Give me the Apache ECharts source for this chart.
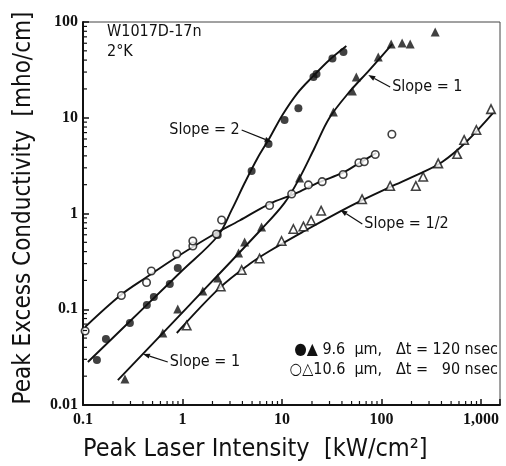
<!DOCTYPE html>
<html>
<head>
<meta charset="utf-8">
<script src="https://cdn.jsdelivr.net/npm/echarts@6/dist/echarts.min.js"></script>
<style>
  html, body { margin: 0; padding: 0; background: #fff; }
  #chart { width: 506px; height: 466px; }
</style>
</head>
<body>
<div id="chart"></div>
<script>
// Peak excess conductivity vs. peak laser intensity, sample W1017D-17n at 2 K.
// Values are [intensity kW/cm^2, conductivity mho/cm].

// 9.6 um, 120 nsec pulses: filled circles and filled triangles
const dot96 = [
  [0.138, 0.0295], [0.17, 0.049], [0.296, 0.0718], [0.438, 0.111], [0.515, 0.134],
  [0.745, 0.184], [0.896, 0.27], [2.26, 0.596], [4.95, 2.78], [7.32, 5.32],
  [10.6, 9.48], [14.6, 12.6], [20.7, 26.7], [22.2, 28.6], [32.1, 41.6], [41.4, 48.6]
];
const tri96 = [
  [0.264, 0.0187], [0.634, 0.0565], [0.896, 0.1007], [1.60, 0.155], [2.26, 0.212],
  [3.66, 0.387], [4.21, 0.504], [6.23, 0.723], [15.0, 2.35], [32.8, 11.5],
  [50.9, 19.0], [55.8, 26.7], [92.7, 43.1], [125, 58.9], [161, 60.3], [194, 58.9], [346, 78.6]
];

// 10.6 um, 90 nsec pulses: open circles and open triangles
const circ106 = [
  [0.105, 0.0593], [0.243, 0.139], [0.435, 0.190], [0.486, 0.251], [0.876, 0.378],
  [1.27, 0.458], [1.27, 0.516], [2.19, 0.611], [2.47, 0.855], [7.50, 1.21],
  [12.5, 1.60], [18.4, 1.99], [25.3, 2.15], [41.1, 2.55], [59.2, 3.39], [67.1, 3.47],
  [86.5, 4.13], [127, 6.72]
];
const tri106 = [
  [1.10, 0.0676], [2.42, 0.173], [3.93, 0.257], [5.95, 0.339], [9.89, 0.516],
  [13.0, 0.689], [16.4, 0.732], [19.6, 0.845], [24.7, 1.07], [63.7, 1.41],
  [122, 1.94], [221, 1.94], [262, 2.42], [371, 3.34], [575, 4.18], [676, 5.86],
  [897, 7.45], [1259, 12.3]
];

// Hand-drawn trend curves through each data set
const curveDot96 = [
  [0.112, 0.0281], [0.438, 0.111], [0.981, 0.251], [2.26, 0.582], [3.12, 1.09],
  [4.21, 2.08], [5.68, 3.80], [7.50, 6.15], [10.1, 10.7], [14.3, 18.1],
  [20.2, 26.7], [29.9, 40.1], [44.3, 56.1]
];
const curveTri96 = [
  [0.224, 0.0182], [1.18, 0.111], [6.23, 0.689], [10.6, 1.29], [15.0, 2.35],
  [21.2, 4.83], [29.9, 9.94], [47.5, 18.6], [75.4, 31.5], [128, 58.9]
];
const curveCirc106 = [
  [0.105, 0.0653], [0.240, 0.141], [0.438, 0.217], [0.876, 0.351], [2.01, 0.596],
  [3.75, 0.845], [7.50, 1.26], [13.3, 1.60], [23.8, 2.13], [40.5, 2.65],
  [59.8, 3.37], [88.5, 4.28]
];
const curveTri106 = [
  [0.876, 0.0565], [2.36, 0.167], [4.72, 0.297], [7.50, 0.406], [16.1, 0.641],
  [37.7, 1.04], [64.1, 1.38], [122, 1.89], [239, 2.59], [406, 3.45],
  [708, 5.58], [1349, 11.5]
];

// Axis ranges and tick labels (one label per decade)
const xRange = [0.1, 1550];
const yRange = [0.01, 100];
const xTickLabels = ['0.1', '1', '10', '100', '1,000'];
const yTickLabels = ['0.01', '0.1', '1', '10', '100'];

// Slope annotations: label text, where the leader starts, where its arrow points
const slopeNotes = [
  { text: 'Slope = 2',   from: [3.93, 7.45],  to: [7.86, 5.58],   side: 'left' },
  { text: 'Slope = 1',   from: [122, 20.9],   to: [73.6, 27.9],   side: 'right' },
  { text: 'Slope = 1/2', from: [64.1, 0.777], to: [38.6, 1.09],   side: 'right' },
  { text: 'Slope = 1',   from: [0.711, 0.0281], to: [0.40, 0.0341], side: 'right' }
];

const INK = '#111';
const SANS = "'Liberation Sans Narrow', 'DejaVu Sans Condensed', 'Liberation Sans', sans-serif";
const SERIF = "'Liberation Serif', 'DejaVu Serif', serif";

// Minor log ticks (2..9 in each decade) drawn through the axis scales
function minorValues(lo, hi) {
  const out = [];
  for (let e = Math.floor(Math.log10(lo)); e <= Math.ceil(Math.log10(hi)); e++) {
    for (let m = 2; m <= 9; m++) {
      const v = m * Math.pow(10, e);
      if (v > lo && v < hi) out.push(+v.toPrecision(6));
    }
  }
  return out;
}
const xMinor = minorValues(xRange[0], xRange[1]).map(v => [v, yRange[0]]);
const yMinor = minorValues(yRange[0], yRange[1]).map(v => [xRange[0], v]);

function decadeLabel(labels, lo) {
  const base = Math.round(Math.log10(lo));
  return function (v) {
    const l = Math.log10(v);
    const k = Math.round(l);
    if (Math.abs(l - k) > 1e-6) return '';
    return labels[k - base] || '';
  };
}

const chart = echarts.init(document.getElementById('chart'), null, { renderer: 'canvas' });

const curveStyle = { color: INK, width: 1.9 };
function curve(data) {
  return {
    type: 'line', data: data, showSymbol: false, smooth: 0.35,
    lineStyle: curveStyle, silent: true, z: 2, animation: false
  };
}
function marks(data, symbol, filled, size) {
  return {
    type: 'scatter', data: data, symbol: symbol, symbolSize: size,
    itemStyle: filled
      ? { color: INK, borderColor: INK, borderWidth: 0 }
      : { color: '#fff', borderColor: INK, borderWidth: 1.6 },
    silent: true, z: 3, animation: false
  };
}
function minorTicks(data, horizontal) {
  return {
    type: 'custom', data: data, silent: true, z: 4, animation: false,
    clip: false,
    renderItem: function (params, api) {
      const p = api.coord([api.value(0), api.value(1)]);
      const shape = horizontal
        ? { x1: p[0], y1: p[1], x2: p[0], y2: p[1] - 4 }
        : { x1: p[0], y1: p[1], x2: p[0] + 4, y2: p[1] };
      return { type: 'line', shape: shape, style: { stroke: INK, lineWidth: 1.2 } };
    }
  };
}

const axisCommon = {
  type: 'log', logBase: 10,
  axisLine: { show: true, lineStyle: { color: INK, width: 2 } },
  axisTick: { show: true, inside: true, length: 6, lineStyle: { color: INK, width: 1.5 } },
  minorTick: { show: false },
  splitLine: { show: false },
  axisLabel: { color: INK, fontFamily: SERIF, fontWeight: 'bold', fontSize: 16 }
};

chart.setOption({
  backgroundColor: '#fff',
  animation: false,
  grid: { left: 83, right: 6, top: 22, bottom: 61, show: true, borderColor: '#444', borderWidth: 1 },
  xAxis: Object.assign({}, axisCommon, {
    min: xRange[0], max: xRange[1],
    axisLabel: Object.assign({}, axisCommon.axisLabel, { margin: 7, formatter: decadeLabel(xTickLabels, xRange[0]) })
  }),
  yAxis: Object.assign({}, axisCommon, {
    min: yRange[0], max: yRange[1],
    axisLabel: Object.assign({}, axisCommon.axisLabel, { margin: 5, formatter: decadeLabel(yTickLabels, yRange[0]) })
  }),
  series: [
    curve(curveDot96), curve(curveTri96), curve(curveCirc106), curve(curveTri106),
    marks(dot96, 'circle', true, 8),
    marks(tri96, 'triangle', true, 9),
    marks(circ106, 'circle', false, 7.5),
    marks(tri106, 'triangle', false, 8.5),
    minorTicks(xMinor, true),
    minorTicks(yMinor, false)
  ]
});

// Text and leader arrows placed in data coordinates
const px = v => chart.convertToPixel({ xAxisIndex: 0, yAxisIndex: 0 }, v);
const elements = [];

slopeNotes.forEach(n => {
  const a = px(n.from), b = px(n.to);
  const ang = Math.atan2(b[1] - a[1], b[0] - a[0]);
  const L = 7, W = 2.6;
  const bx = b[0] - L * Math.cos(ang), by = b[1] - L * Math.sin(ang);
  elements.push({
    type: 'line', silent: true,
    shape: { x1: a[0], y1: a[1], x2: bx, y2: by },
    style: { stroke: INK, lineWidth: 1.2 }
  });
  elements.push({
    type: 'polygon', silent: true,
    shape: { points: [
      [b[0], b[1]],
      [bx + W * Math.sin(ang), by - W * Math.cos(ang)],
      [bx - W * Math.sin(ang), by + W * Math.cos(ang)]
    ] },
    style: { fill: INK }
  });
  elements.push({
    type: 'text', silent: true,
    x: n.side === 'left' ? a[0] - 2 : a[0] + 2, y: a[1],
    style: {
      text: n.text, font: '16px ' + SANS, fill: INK,
      align: n.side === 'left' ? 'right' : 'left', verticalAlign: 'middle'
    }
  });
});

// Sample identification
elements.push({
  type: 'text', silent: true, x: 107, y: 42,
  style: { text: 'W1017D-17n\n2°K', font: '16px ' + SANS, fill: INK, lineHeight: 20, align: 'left', verticalAlign: 'middle' }
});

// Symbol key
elements.push({
  type: 'text', silent: true, x: 498, y: 350,
  style: { text: '●▲ 9.6  µm,   Δt = 120 nsec', font: '16px ' + SANS, fill: INK, align: 'right', verticalAlign: 'middle' }
});
elements.push({
  type: 'text', silent: true, x: 498, y: 370,
  style: { text: '○△10.6  µm,   Δt =   90 nsec', font: '16px ' + SANS, fill: INK, align: 'right', verticalAlign: 'middle' }
});

// Axis titles
elements.push({
  type: 'text', silent: true, x: 83, y: 449,
  style: { text: 'Peak Laser Intensity  [kW/cm²]', font: '25px ' + SANS, fill: INK, align: 'left', verticalAlign: 'middle' }
});
elements.push({
  type: 'text', silent: true, x: 24, y: 208, rotation: Math.PI / 2,
  style: { text: 'Peak Excess Conductivity  [mho/cm]', font: '24px ' + SANS, fill: INK, align: 'center', verticalAlign: 'middle' }
});

chart.setOption({ graphic: { elements: elements } });
</script>
</body>
</html>
